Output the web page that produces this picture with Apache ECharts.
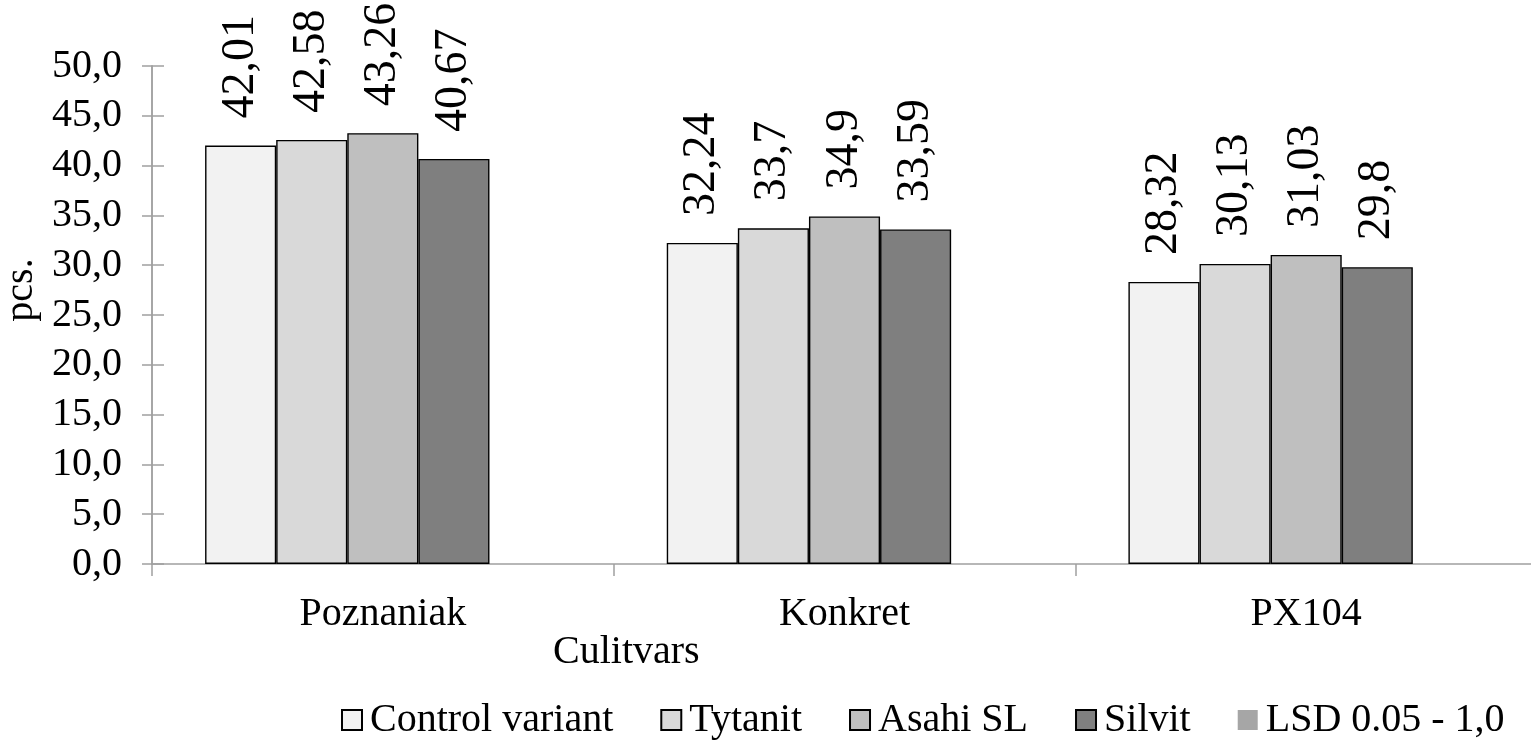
<!DOCTYPE html>
<html>
<head>
<meta charset="utf-8">
<script src="https://cdn.jsdelivr.net/npm/echarts@6/dist/echarts.min.js"></script>
<style>
html,body{margin:0;padding:0;background:#fff;}
#chart{width:1531px;height:741px;}
</style>
</head>
<body>
<div id="chart"></div>
<script>
const categories = ['Poznaniak', 'Konkret', 'PX104'];
const seriesNames = ['Control variant', 'Tytanit', 'Asahi SL', 'Silvit', 'LSD 0.05 - 1,0'];
const controlValues = [42.01, 32.24, 28.32];
const tytanitValues = [42.58, 33.7, 30.13];
const asahiValues = [43.26, 34.9, 31.03];
const silvitValues = [40.67, 33.59, 29.8];
const lsdValues = [null, null, null];
const colors = ['#f2f2f2', '#d9d9d9', '#bfbfbf', '#7f7f7f', '#a6a6a6'];
const yTicks = { min: 0, max: 50, interval: 5 };

const FONT = "'Liberation Serif', 'Times New Roman', serif";
const fmt = v => String(v).replace('.', ',');

const allValues = [controlValues, tytanitValues, asahiValues, silvitValues, lsdValues];

const series = allValues.map((vals, i) => ({
  name: seriesNames[i],
  type: 'bar',
  data: vals,
  barGap: '0%',
  barCategoryGap: '23%',
  itemStyle: {
    color: colors[i],
    borderColor: i < 4 ? '#000' : colors[i],
    borderWidth: i < 4 ? 1.4 : 0
  },
  label: {
    show: i < 4,
    position: 'top',
    rotate: 90,
    align: 'left',
    verticalAlign: 'middle',
    distance: 27,
    fontFamily: FONT,
    fontSize: 46,
    color: '#000',
    formatter: p => fmt(p.value)
  }
}));

const chart = echarts.init(document.getElementById('chart'), null, { renderer: 'canvas' });
chart.setOption({
  animation: false,
  backgroundColor: '#fff',
  textStyle: { fontFamily: FONT },
  grid: { left: 152, right: -6, top: 66, bottom: 177, containLabel: false, outerBoundsMode: 'none' },
  title: {
    text: 'Culitvars',
    left: 553,
    top: 632,
    padding: 0,
    textStyle: { fontFamily: FONT, fontSize: 40, fontWeight: 'normal', color: '#000' }
  },
  legend: {
    left: 341,
    top: 700,
    padding: 0,
    itemWidth: 20,
    itemHeight: 20,
    itemGap: 47,
    icon: 'rect',
    data: seriesNames,
    textStyle: { fontFamily: FONT, fontSize: 40, color: '#000', padding: [0, 0, 0, 3] }
  },
  xAxis: {
    type: 'category',
    data: categories,
    axisLine: { show: true, lineStyle: { color: '#a0a0a0', width: 1.5 } },
    axisTick: { show: true, length: 12, lineStyle: { color: '#a0a0a0', width: 1.5 } },
    axisLabel: { fontFamily: FONT, fontSize: 40, color: '#000', margin: 30 }
  },
  yAxis: [
    {
      type: 'value',
      min: yTicks.min, max: yTicks.max, interval: yTicks.interval,
      name: 'pcs.',
      nameLocation: 'middle',
      nameGap: 104,
      nameTextStyle: { fontFamily: FONT, fontSize: 40, color: '#000', padding: [0, 0, 0, 50] },
      axisLine: { show: true, lineStyle: { color: '#a0a0a0', width: 1.5 } },
      axisTick: { show: true, length: 10, lineStyle: { color: '#a0a0a0', width: 1.5 } },
      splitLine: { show: false },
      axisLabel: { fontFamily: FONT, fontSize: 40, color: '#000', margin: 30, formatter: v => v.toFixed(1).replace('.', ',') }
    },
    {
      type: 'value',
      position: 'left',
      min: yTicks.min, max: yTicks.max, interval: yTicks.interval,
      axisLine: { show: true, lineStyle: { color: '#a0a0a0', width: 1.5 } },
      axisTick: { show: true, inside: true, length: 12, lineStyle: { color: '#a0a0a0', width: 1.5 } },
      splitLine: { show: false },
      axisLabel: { show: false }
    }
  ],
  series: series
});
</script>
</body>
</html>
